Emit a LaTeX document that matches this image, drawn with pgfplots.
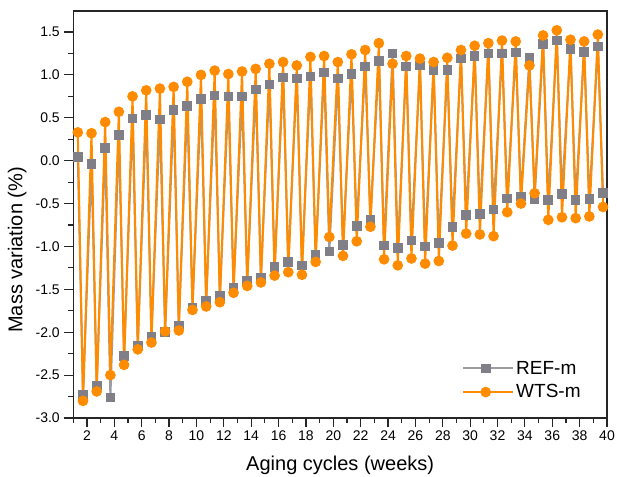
\documentclass[border=0pt]{standalone}
\usepackage{fontspec}
\setmainfont{Liberation Sans}
\usepackage{pgfplots}
\pgfplotsset{compat=1.18}
\usepackage{pgfplotstable}
\definecolor{orng}{RGB}{255,140,0}
\definecolor{gryl}{RGB}{155,155,160}
\definecolor{grym}{RGB}{128,126,134}

\pgfplotstableread{
x REF WTS
1.33 0.04 0.33
1.71 -2.73 -2.80
2.33 -0.04 0.32
2.71 -2.62 -2.69
3.33 0.15 0.45
3.71 -2.76 -2.50
4.33 0.30 0.57
4.71 -2.28 -2.38
5.33 0.49 0.75
5.71 -2.16 -2.20
6.33 0.53 0.82
6.71 -2.05 -2.12
7.33 0.48 0.84
7.71 -2.00 -1.99
8.33 0.59 0.86
8.71 -1.92 -1.98
9.33 0.64 0.92
9.71 -1.71 -1.74
10.33 0.72 1.00
10.71 -1.63 -1.70
11.33 0.76 1.05
11.71 -1.58 -1.65
12.33 0.75 1.01
12.71 -1.48 -1.54
13.33 0.75 1.04
13.71 -1.40 -1.46
14.33 0.83 1.07
14.71 -1.36 -1.42
15.33 0.89 1.13
15.71 -1.24 -1.34
16.33 0.97 1.15
16.71 -1.18 -1.30
17.33 0.96 1.11
17.71 -1.22 -1.33
18.33 0.98 1.21
18.71 -1.10 -1.18
19.33 1.03 1.22
19.71 -1.06 -0.89
20.33 0.96 1.15
20.71 -0.98 -1.11
21.33 1.01 1.24
21.71 -0.76 -0.94
22.33 1.10 1.29
22.71 -0.69 -0.77
23.33 1.16 1.37
23.71 -0.99 -1.15
24.33 1.25 1.13
24.71 -1.02 -1.22
25.33 1.10 1.22
25.71 -0.93 -1.14
26.33 1.11 1.19
26.71 -1.00 -1.20
27.33 1.06 1.15
27.71 -0.96 -1.17
28.33 1.06 1.20
28.71 -0.77 -0.99
29.33 1.19 1.29
29.71 -0.63 -0.85
30.33 1.22 1.34
30.71 -0.62 -0.86
31.33 1.25 1.37
31.71 -0.57 -0.88
32.33 1.25 1.40
32.71 -0.44 -0.60
33.33 1.26 1.39
33.71 -0.42 -0.50
34.33 1.20 1.11
34.71 -0.45 -0.38
35.33 1.36 1.46
35.71 -0.46 -0.69
36.33 1.40 1.52
36.71 -0.39 -0.66
37.33 1.30 1.41
37.71 -0.46 -0.67
38.33 1.27 1.39
38.71 -0.45 -0.65
39.33 1.33 1.47
39.71 -0.38 -0.54
}\data

\begin{document}
\begin{tikzpicture}
\begin{axis}[
  scale only axis, width=533.7pt, height=407pt,
  xmin=1, xmax=40, ymin=-3, ymax=1.745,
  xtick={2,4,...,40}, minor xtick={1,3,...,39},
  ytick={-3,-2.5,-2,-1.5,-1,-0.5,0,0.5,1,1.5},
  minor ytick={-2.75,-2.25,-1.75,-1.25,-0.75,-0.25,0.25,0.75,1.25},
  tick align=outside, xtick pos=bottom, ytick pos=left,
  major tick length=9pt, minor tick length=5pt,
  every tick/.style={black!85, line width=1.2pt},
  axis line style={line width=1.5pt, black!85},
  tick label style={font=\fontsize{14}{16}\selectfont},
  yticklabel style={xshift=-1pt},
  /pgf/number format/assume math mode=true,
  yticklabel style={/pgf/number format/.cd, fixed, fixed zerofill, precision=1},
  xlabel={Aging cycles (weeks)}, ylabel={Mass variation (\%)},
  label style={font=\fontsize{20}{24}\selectfont},
  xlabel style={at={(axis description cs:0.5,0)}, anchor=center, yshift=-47pt},
  ylabel style={at={(axis description cs:-0.1049,0.413)}, anchor=center},
  legend style={draw=none, fill=none, font=\fontsize{19}{22}\selectfont,
    at={(0.7227,0.0926)}, anchor=west, row sep=5pt},
  legend cell align=left,
  legend image code/.code={\path (0pt,0pt) -- (50pt,0pt);\draw[mark repeat=2,mark phase=2,#1] plot coordinates {(0pt,0pt) (22.5pt,0pt) (45pt,0pt)};},
]
\addplot[gryl, line width=2pt, mark=square*, mark size=3.8pt, mark options={solid, fill=grym, draw=grym}] table[x=x, y=REF] {\data};
\addlegendentry{REF-m}
\addplot[orng, line width=2pt, mark=*, mark size=4.3pt, mark options={solid, fill=orng, draw=orng}] table[x=x, y=WTS] {\data};
\addlegendentry{WTS-m}
\end{axis}
\pgfresetboundingbox
\path (current axis.south west) ++(-73.3pt,-58pt) rectangle ++(617pt,476pt);
\end{tikzpicture}
\end{document}
